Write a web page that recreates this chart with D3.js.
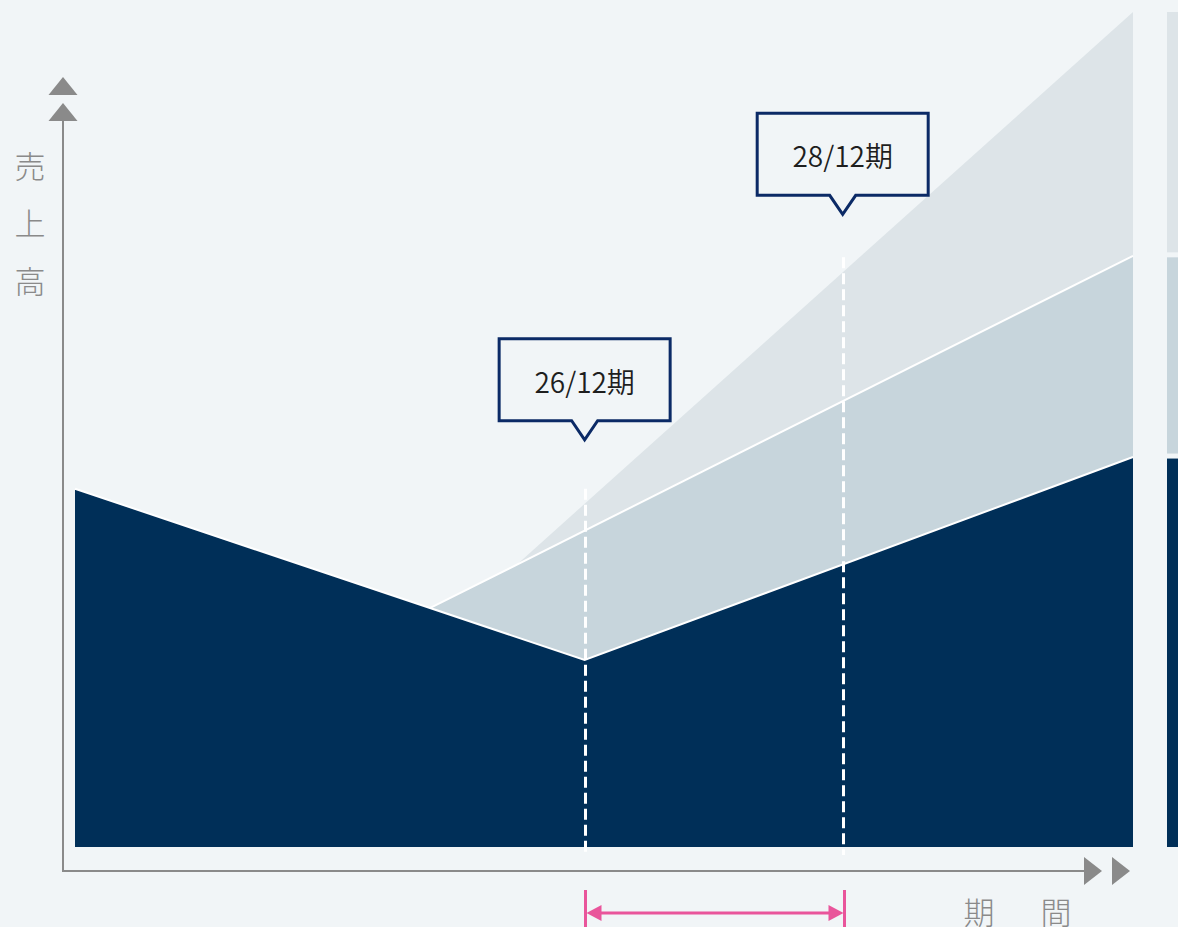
<!DOCTYPE html>
<html lang="ja">
<head>
<meta charset="utf-8">
<title>売上高の推移</title>
<script src="https://cdn.jsdelivr.net/npm/d3@7"></script>
<style>
  html, body { margin: 0; padding: 0; background: #f1f5f7; overflow: hidden; }
  svg { display: block; font-family: "Noto Sans CJK JP", "Noto Sans", sans-serif; }
</style>
</head>
<body>
<svg id="chart" width="1178" height="927"></svg>
<script>
// Sales scenario: base trend plus two upside layers (values in % of the axis top)
const basePeriods = [22.05, 26, 30.25];
const baseValues  = [42.9, 22.4, 46.7];
const midPeriods  = [24.80, 30.25];
const midValues   = [28.6, 70.8];
const upperPeriods = [25.48, 30.25];
const upperValues  = [33.9, 100];

// Highlighted periods
const markerPeriods = [26, 28];
const markerLabels  = ["26/12期", "28/12期"];

// Axis titles
const yTitleChars = ["売", "上", "高"];
const xTitleChars = ["期", "間"];

const W = 1178, H = 927;
const C = {
  bg: "#f1f5f7", dark: "#002f58", mid: "#c7d5dc", light: "#dde4e8",
  axis: "#8a8a8a", navy: "#0b2a66", pink: "#e9559b", text: "#1e1e1e"
};

const svg = d3.select("#chart");
svg.append("rect").attr("width", W).attr("height", H).attr("fill", C.bg);

const x = d3.scaleLinear().domain([22.05, 30.25]).range([75, 1133]);
const y = d3.scaleLinear().domain([0, 100]).range([847, 12]);

const toPts = (ps, vs) => ps.map((p, i) => [p, vs[i]]);
const basePts  = toPts(basePeriods, baseValues);
const midPts   = toPts(midPeriods, midValues);
const upperPts = toPts(upperPeriods, upperValues);

const area = d3.area().x(d => x(d[0])).y0(y(0)).y1(d => y(d[1]));
const line = d3.line().x(d => x(d[0])).y(d => y(d[1]));

// Stacked layers, lightest first
svg.append("path").datum(upperPts).attr("d", area).attr("fill", C.light);
svg.append("path").datum(midPts).attr("d", area).attr("fill", C.mid);
svg.append("path").datum(midPts).attr("d", line).attr("fill", "none")
  .attr("stroke", "#fff").attr("stroke-width", 2);
svg.append("path").datum(basePts).attr("d", area).attr("fill", C.dark);
svg.append("path").datum(basePts).attr("d", line).attr("fill", "none")
  .attr("stroke", "#fff").attr("stroke-width", 2);

// End-of-range stacked bar
const lastOf = a => a[a.length - 1];
const endStack = [
  { lo: 0, hi: lastOf(baseValues), fill: C.dark },
  { lo: lastOf(baseValues), hi: lastOf(midValues), fill: C.mid },
  { lo: lastOf(midValues), hi: lastOf(upperValues), fill: C.light }
];
const segTop = d => y(d.hi) + (d.hi >= 100 ? 0 : 1.5);
const segBottom = d => y(d.lo) - (d.lo === 0 ? 0 : 3.5);
svg.append("g").selectAll("rect").data(endStack).join("rect")
  .attr("x", 1167).attr("width", 24)
  .attr("y", segTop)
  .attr("height", d => segBottom(d) - segTop(d))
  .attr("fill", d => d.fill);

// Dashed guides at the highlighted periods
const upperAt = d3.scaleLinear().domain(upperPeriods).range(upperValues);
const gx = p => Math.round(x(p)) + 0.5;
svg.append("g").selectAll("line").data(markerPeriods).join("line")
  .attr("x1", gx).attr("x2", gx)
  .attr("y1", d => y(upperAt(d)) - 15).attr("y2", 855)
  .attr("stroke", "#fff").attr("stroke-width", 3)
  .attr("stroke-dasharray", "11 5");

// Axes
const axisG = svg.append("g");
axisG.append("line").attr("x1", 63).attr("x2", 63).attr("y1", 119).attr("y2", 871)
  .attr("stroke", C.axis).attr("stroke-width", 2);
axisG.append("line").attr("x1", 62).attr("x2", 1085).attr("y1", 871).attr("y2", 871)
  .attr("stroke", C.axis).attr("stroke-width", 2);
[77, 103].forEach(t => {
  axisG.append("path").attr("d", `M63,${t} L77.5,${t + 18} L48.5,${t + 18} Z`).attr("fill", C.axis);
});
[1084, 1112].forEach(b => {
  axisG.append("path").attr("d", `M${b},857 L${b + 18},871 L${b},885 Z`).attr("fill", C.axis);
});

svg.append("g").selectAll("text").data(yTitleChars).join("text")
  .attr("x", 30).attr("y", (d, i) => 164 + i * 57.5)
  .attr("text-anchor", "middle").attr("dominant-baseline", "central")
  .attr("font-size", 31).attr("font-weight", 300).attr("fill", C.axis)
  .text(d => d);
svg.append("g").selectAll("text").data(xTitleChars).join("text")
  .attr("x", (d, i) => 979 + i * 77).attr("y", 910)
  .attr("text-anchor", "middle").attr("dominant-baseline", "central")
  .attr("font-size", 31).attr("font-weight", 300).attr("fill", C.axis)
  .text(d => d);

// Callouts: lift of each pointer tip above the upper layer, in pixels
const calloutLift = [64, 58];
const bw = 171, bh = 82, notch = 13, notchH = 19;
const callouts = svg.append("g").selectAll("g").data(markerPeriods).join("g");
callouts.each(function (p, i) {
  const cx = x(p);
  const tip = y(upperAt(p)) - calloutLift[i];
  const y1 = tip - notchH, y0 = y1 - bh;
  const x0 = cx - bw / 2, x1 = cx + bw / 2;
  const g = d3.select(this);
  g.append("path")
    .attr("d", `M${x0},${y0} H${x1} V${y1} H${cx + notch} L${cx},${tip} L${cx - notch},${y1} H${x0} Z`)
    .attr("fill", C.bg).attr("stroke", C.navy).attr("stroke-width", 3)
    .attr("stroke-linejoin", "miter");
  g.append("text").attr("x", cx).attr("y", (y0 + y1) / 2 + 1)
    .attr("text-anchor", "middle").attr("dominant-baseline", "central")
    .attr("font-size", 28).attr("font-weight", 350).attr("fill", C.text)
    .text(markerLabels[i]);
});

// Span bracket between the highlighted periods
const bx0 = Math.round(x(markerPeriods[0])) + 0.5, bx1 = Math.round(x(markerPeriods[1])) + 1.5;
const br = svg.append("g").attr("stroke", C.pink).attr("fill", C.pink);
br.append("line").attr("x1", bx0 + 8).attr("x2", bx1 - 8).attr("y1", 913).attr("y2", 913).attr("stroke-width", 3);
br.append("line").attr("x1", bx0).attr("x2", bx0).attr("y1", 890).attr("y2", 927).attr("stroke-width", 3);
br.append("line").attr("x1", bx1).attr("x2", bx1).attr("y1", 890).attr("y2", 927).attr("stroke-width", 3);
br.append("path").attr("stroke", "none").attr("d", `M${bx0 + 1},913 L${bx0 + 16},905 L${bx0 + 16},921 Z`);
br.append("path").attr("stroke", "none").attr("d", `M${bx1 - 1},913 L${bx1 - 16},905 L${bx1 - 16},921 Z`);
</script>
</body>
</html>
